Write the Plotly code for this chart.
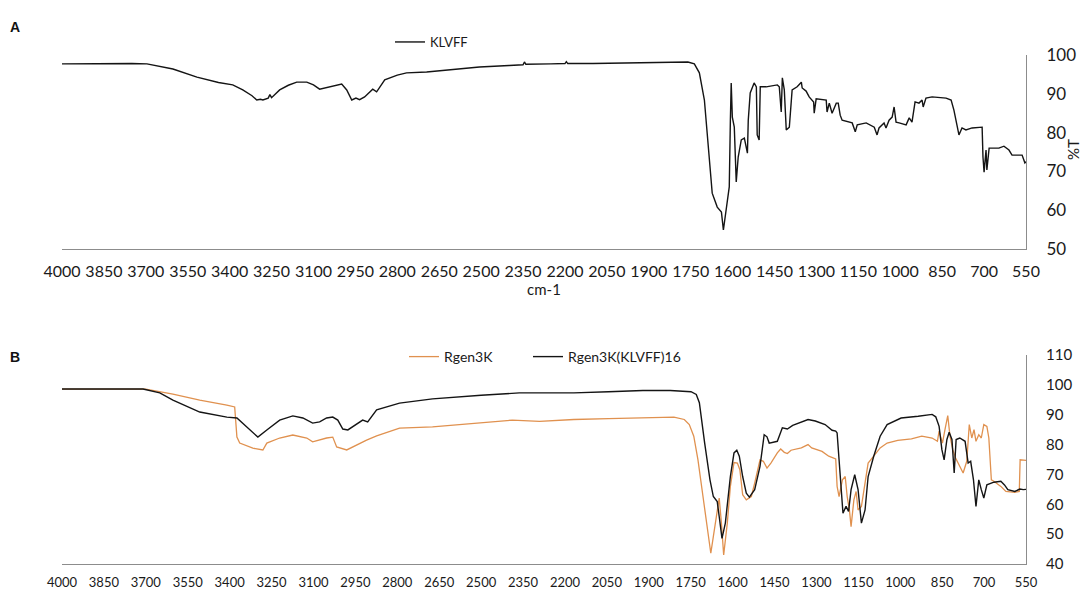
import plotly.graph_objects as go

# ---- Panel A: KLVFF transmittance spectrum ----
klvff_wn = [4000, 3850, 3750, 3696, 3603, 3517, 3440, 3389, 3353, 3320, 3303, 3290, 3281, 3262,
            3256, 3250, 3221, 3190, 3160, 3124, 3100, 3078, 3042, 2999, 2981, 2963, 2948, 2935,
            2917, 2888, 2874, 2845, 2800, 2767, 2695, 2600, 2506, 2400, 2350, 2345, 2340, 2250,
            2200, 2195, 2190, 2100, 2000, 1900, 1850, 1790, 1760, 1737, 1719, 1701, 1683, 1673,
            1655, 1640, 1633, 1619, 1612, 1608, 1605, 1601, 1594, 1587, 1580, 1569, 1558, 1547,
            1544, 1537, 1523, 1515, 1512, 1505, 1501, 1480, 1440, 1433, 1426, 1422, 1415, 1408,
            1397, 1387, 1369, 1354, 1351, 1337, 1326, 1310, 1308, 1301, 1265, 1262, 1254, 1244,
            1229, 1222, 1215, 1208, 1172, 1161, 1154, 1122, 1093, 1083, 1076, 1058, 1051, 1040,
            1029, 1022, 1015, 1004, 979, 968, 958, 947, 933, 922, 918, 908, 886, 836, 818, 808,
            800, 790, 779, 765, 743, 711, 707, 704, 700, 693, 690, 682, 647, 629, 611, 600, 564,
            554, 550]
klvff_t = [97.7, 97.8, 97.8, 97.7, 96.4, 94.3, 92.9, 92.3, 91.0, 89.5, 88.4, 88.6, 88.4, 88.9,
           89.8, 89.0, 91.0, 92.2, 93.0, 93.0, 92.3, 91.2, 91.8, 92.5, 91.0, 88.4, 88.9, 88.5,
           89.2, 91.2, 90.5, 93.6, 94.8, 95.4, 95.6, 96.3, 96.9, 97.3, 97.5, 98.2, 97.6, 97.7,
           97.8, 98.3, 97.8, 97.8, 97.9, 98.1, 98.2, 98.3, 98.2, 97.7, 95.4, 88.4, 72.9, 64.4,
           60.8, 59.5, 54.9, 61.9, 66.0, 83.2, 92.8, 84.0, 81.4, 67.3, 73.7, 78.1, 78.6, 74.7,
           83.2, 90.2, 92.8, 91.8, 79.4, 78.1, 91.8, 91.8, 92.3, 91.8, 85.3, 94.1, 91.0, 80.7,
           81.4, 91.0, 91.8, 93.0, 91.5, 90.7, 89.2, 87.9, 85.0, 88.7, 88.4, 85.3, 87.6, 85.0,
           87.6, 87.6, 84.5, 83.2, 82.5, 80.2, 82.0, 82.5, 81.4, 79.4, 81.2, 82.5, 81.2, 83.2,
           84.0, 86.6, 82.7, 82.5, 82.0, 83.8, 82.7, 87.9, 87.6, 88.4, 86.6, 88.9, 89.2, 88.9,
           88.4, 85.8, 83.2, 79.4, 81.2, 80.7, 81.2, 81.4, 81.4, 73.7, 69.8, 75.5, 70.4, 76.0,
           76.0, 76.5, 75.5, 74.2, 74.2, 72.2, 72.5]

# ---- Panel B: Rgen3K and Rgen3K(KLVFF)16 ----
rgen_wn = [4000, 3850, 3700, 3603, 3507, 3410, 3382, 3374, 3364, 3317, 3281, 3267, 3221, 3174,
           3124, 3103, 3053, 3031, 3017, 2981, 2960, 2910, 2874, 2792, 2674, 2500, 2388, 2291,
           2168, 2044, 1921, 1810, 1773, 1755, 1739, 1724, 1706, 1690, 1678, 1669, 1656, 1648,
           1640, 1632, 1619, 1608, 1595, 1583, 1574, 1564, 1551, 1533, 1521, 1502, 1490, 1477,
           1463, 1440, 1428, 1415, 1404, 1391, 1354, 1330, 1317, 1280, 1256, 1231, 1226, 1219,
           1207, 1197, 1190, 1182, 1176, 1166, 1158, 1151, 1139, 1126, 1115, 1095, 1072, 1047,
           1009, 960, 923, 886, 867, 861, 849, 840, 830, 822, 812, 802, 787, 775, 762, 753, 744,
           736, 729, 719, 710, 701, 690, 683, 674, 665, 640, 622, 590, 574, 571, 560, 550]
rgen_t = [98.6, 98.6, 98.6, 96.9, 94.9, 93.2, 92.6, 82.5, 80.5, 78.8, 78.2, 80.5, 82.2, 83.2,
          82.2, 80.9, 82.2, 82.5, 79.2, 78.2, 79.2, 81.5, 82.9, 85.5, 85.9, 87.2, 88.2, 87.8,
          88.4, 88.7, 88.9, 89.2, 88.4, 86.7, 82.8, 74.9, 62.6, 52.5, 43.6, 49.2, 58.1, 62.1,
          53.7, 43.0, 53.7, 66.0, 74.0, 73.8, 71.6, 63.2, 61.5, 62.6, 67.1, 74.9, 74.4, 72.1,
          73.8, 77.2, 78.5, 77.4, 77.0, 78.1, 78.9, 80.0, 78.9, 77.7, 76.1, 75.2, 66.0, 62.6,
          68.2, 69.3, 62.6, 58.1, 52.5, 61.5, 64.3, 58.1, 59.3, 67.1, 73.8, 76.1, 78.9, 80.5,
          81.4, 81.9, 82.8, 82.2, 81.1, 84.5, 80.5, 85.0, 89.7, 82.8, 78.3, 75.5, 72.7, 70.5,
          74.4, 86.7, 82.2, 85.0, 81.1, 83.3, 82.2, 86.7, 86.1, 82.2, 68.2, 67.7, 66.0, 64.3,
          64.0, 64.3, 74.9, 74.7, 74.7]

conj_wn = [4000, 3850, 3710, 3650, 3603, 3507, 3410, 3374, 3339, 3299, 3267, 3221, 3174, 3138,
           3103, 3078, 3053, 3031, 3013, 2995, 2977, 2960, 2924, 2906, 2874, 2792, 2674, 2500,
           2363, 2291, 2168, 2044, 1921, 1823, 1749, 1730, 1719, 1700, 1681, 1669, 1655, 1648,
           1638, 1626, 1608, 1595, 1585, 1576, 1564, 1551, 1540, 1521, 1502, 1487, 1477, 1469,
           1453, 1440, 1422, 1404, 1385, 1354, 1330, 1304, 1269, 1244, 1231, 1226, 1219, 1209,
           1205, 1194, 1185, 1176, 1163, 1151, 1139, 1126, 1115, 1095, 1072, 1047, 1034, 997,
           936, 886, 873, 861, 851, 843, 833, 825, 815, 807, 800, 787, 768, 762, 757, 748, 738,
           729, 719, 710, 701, 690, 665, 640, 627, 615, 590, 572, 560, 550]
conj_t = [98.6, 98.6, 98.6, 97.3, 94.9, 90.9, 89.2, 88.9, 85.9, 82.5, 84.9, 88.2, 89.6, 88.9,
          87.2, 87.6, 88.9, 89.2, 88.2, 85.2, 84.9, 85.9, 88.2, 87.6, 91.6, 93.9, 95.3, 96.5,
          97.3, 97.3, 97.3, 97.7, 98.1, 98.1, 97.7, 96.8, 94.0, 80.5, 68.2, 62.6, 60.9, 55.9,
          48.6, 53.7, 69.3, 77.2, 78.1, 76.1, 69.3, 63.7, 62.4, 64.9, 72.7, 83.3, 82.6, 80.5,
          80.8, 81.1, 85.6, 85.2, 86.4, 87.5, 88.4, 87.9, 86.7, 84.8, 84.5, 83.9, 74.9, 60.4,
          57.0, 59.3, 57.6, 64.9, 69.9, 64.9, 53.7, 58.1, 69.3, 76.1, 82.8, 86.7, 87.3, 88.9,
          89.5, 90.1, 89.3, 86.1, 78.3, 74.9, 81.7, 84.1, 81.7, 70.5, 81.7, 82.2, 81.1, 76.1,
          73.8, 74.4, 68.2, 59.3, 68.2, 64.9, 62.1, 66.5, 67.4, 67.7, 66.5, 64.9, 64.3, 65.1,
          64.9, 65.0]

wn_ticks = [4000, 3850, 3700, 3550, 3400, 3250, 3100, 2950, 2800, 2650, 2500, 2350, 2200,
            2050, 1900, 1750, 1600, 1450, 1300, 1150, 1000, 850, 700, 550]
t_ticks_a = [50, 60, 70, 80, 90, 100]
t_ticks_b = [40, 50, 60, 70, 80, 90, 100, 110]

W, H = 1083, 592
BLACK = "#141414"
ORANGE = "#E0914F"
AXIS = "#8C8C8C"
FONT = "Lato"

fig = go.Figure()
fig.add_trace(go.Scatter(x=klvff_wn, y=klvff_t, mode="lines", name="KLVFF",
                         line=dict(color=BLACK, width=1.4), xaxis="x", yaxis="y",
                         legend="legend", showlegend=True))
fig.add_trace(go.Scatter(x=rgen_wn, y=rgen_t, mode="lines", name="Rgen3K",
                         line=dict(color=ORANGE, width=1.3), xaxis="x2", yaxis="y2",
                         legend="legend2", showlegend=True))
fig.add_trace(go.Scatter(x=conj_wn, y=conj_t, mode="lines", name="Rgen3K(KLVFF)16",
                         line=dict(color=BLACK, width=1.4), xaxis="x2", yaxis="y2",
                         legend="legend3", showlegend=True))

x_dom = [62 / W, 1026 / W]
common_x = dict(domain=x_dom, range=[4000, 550], tickmode="array", tickvals=wn_ticks,
                ticktext=[str(v) for v in wn_ticks], showgrid=False, zeroline=False,
                showline=True, linecolor=AXIS, linewidth=1.2, ticks="outside",
                tickcolor="rgba(0,0,0,0)", automargin=False)
common_y = dict(side="right", showgrid=False, zeroline=False, showline=True,
                linecolor=AXIS, linewidth=1.2, ticks="outside", tickcolor="rgba(0,0,0,0)",
                tickmode="array", automargin=False)
legend_style = dict(xanchor="left", yanchor="middle", orientation="h",
                    bgcolor="rgba(0,0,0,0)", itemwidth=30)

fig.update_layout(
    width=W, height=H,
    margin=dict(l=0, r=0, t=0, b=0, autoexpand=False),
    showlegend=True,
    paper_bgcolor="white", plot_bgcolor="white",
    font=dict(family=FONT, color="#1a1a1a"),
    xaxis=dict(common_x, anchor="y", ticklen=8,
               tickfont=dict(family=FONT, size=16),
               title=dict(text="cm-1", font=dict(family=FONT, size=15), standoff=0)),
    yaxis=dict(common_y, anchor="x", domain=[1 - 249 / H, 1 - 55 / H], range=[50, 100],
               tickvals=t_ticks_a, ticklen=16, tickfont=dict(size=17)),
    xaxis2=dict(common_x, anchor="y2", ticklen=6, tickfont=dict(size=13)),
    yaxis2=dict(common_y, anchor="x2", domain=[1 - 564 / H, 1 - 355 / H], range=[40, 110],
                tickvals=t_ticks_b, ticklen=16, tickfont=dict(size=15)),
    legend=dict(legend_style, x=390 / W, y=1 - 42 / H, font=dict(size=13)),
    legend2=dict(legend_style, x=404 / W, y=1 - 357 / H, font=dict(size=14)),
    legend3=dict(legend_style, x=528 / W, y=1 - 357 / H, font=dict(size=14)),
    annotations=[
        dict(text="<b>A</b>", x=8 / W, y=1 - 27 / H, xref="paper", yref="paper",
             xanchor="left", yanchor="middle", showarrow=False,
             font=dict(family="Liberation Sans", size=14, color="#111")),
        dict(text="<b>B</b>", x=8 / W, y=1 - 357 / H, xref="paper", yref="paper",
             xanchor="left", yanchor="middle", showarrow=False,
             font=dict(family="Liberation Sans", size=14, color="#111")),
        dict(text="%T", x=1073 / W, y=1 - 150 / H, xref="paper", yref="paper",
             xanchor="center", yanchor="middle", showarrow=False, textangle=-90,
             font=dict(family=FONT, size=15, color="#1a1a1a")),
    ],
)

fig.write_html("out.html")
